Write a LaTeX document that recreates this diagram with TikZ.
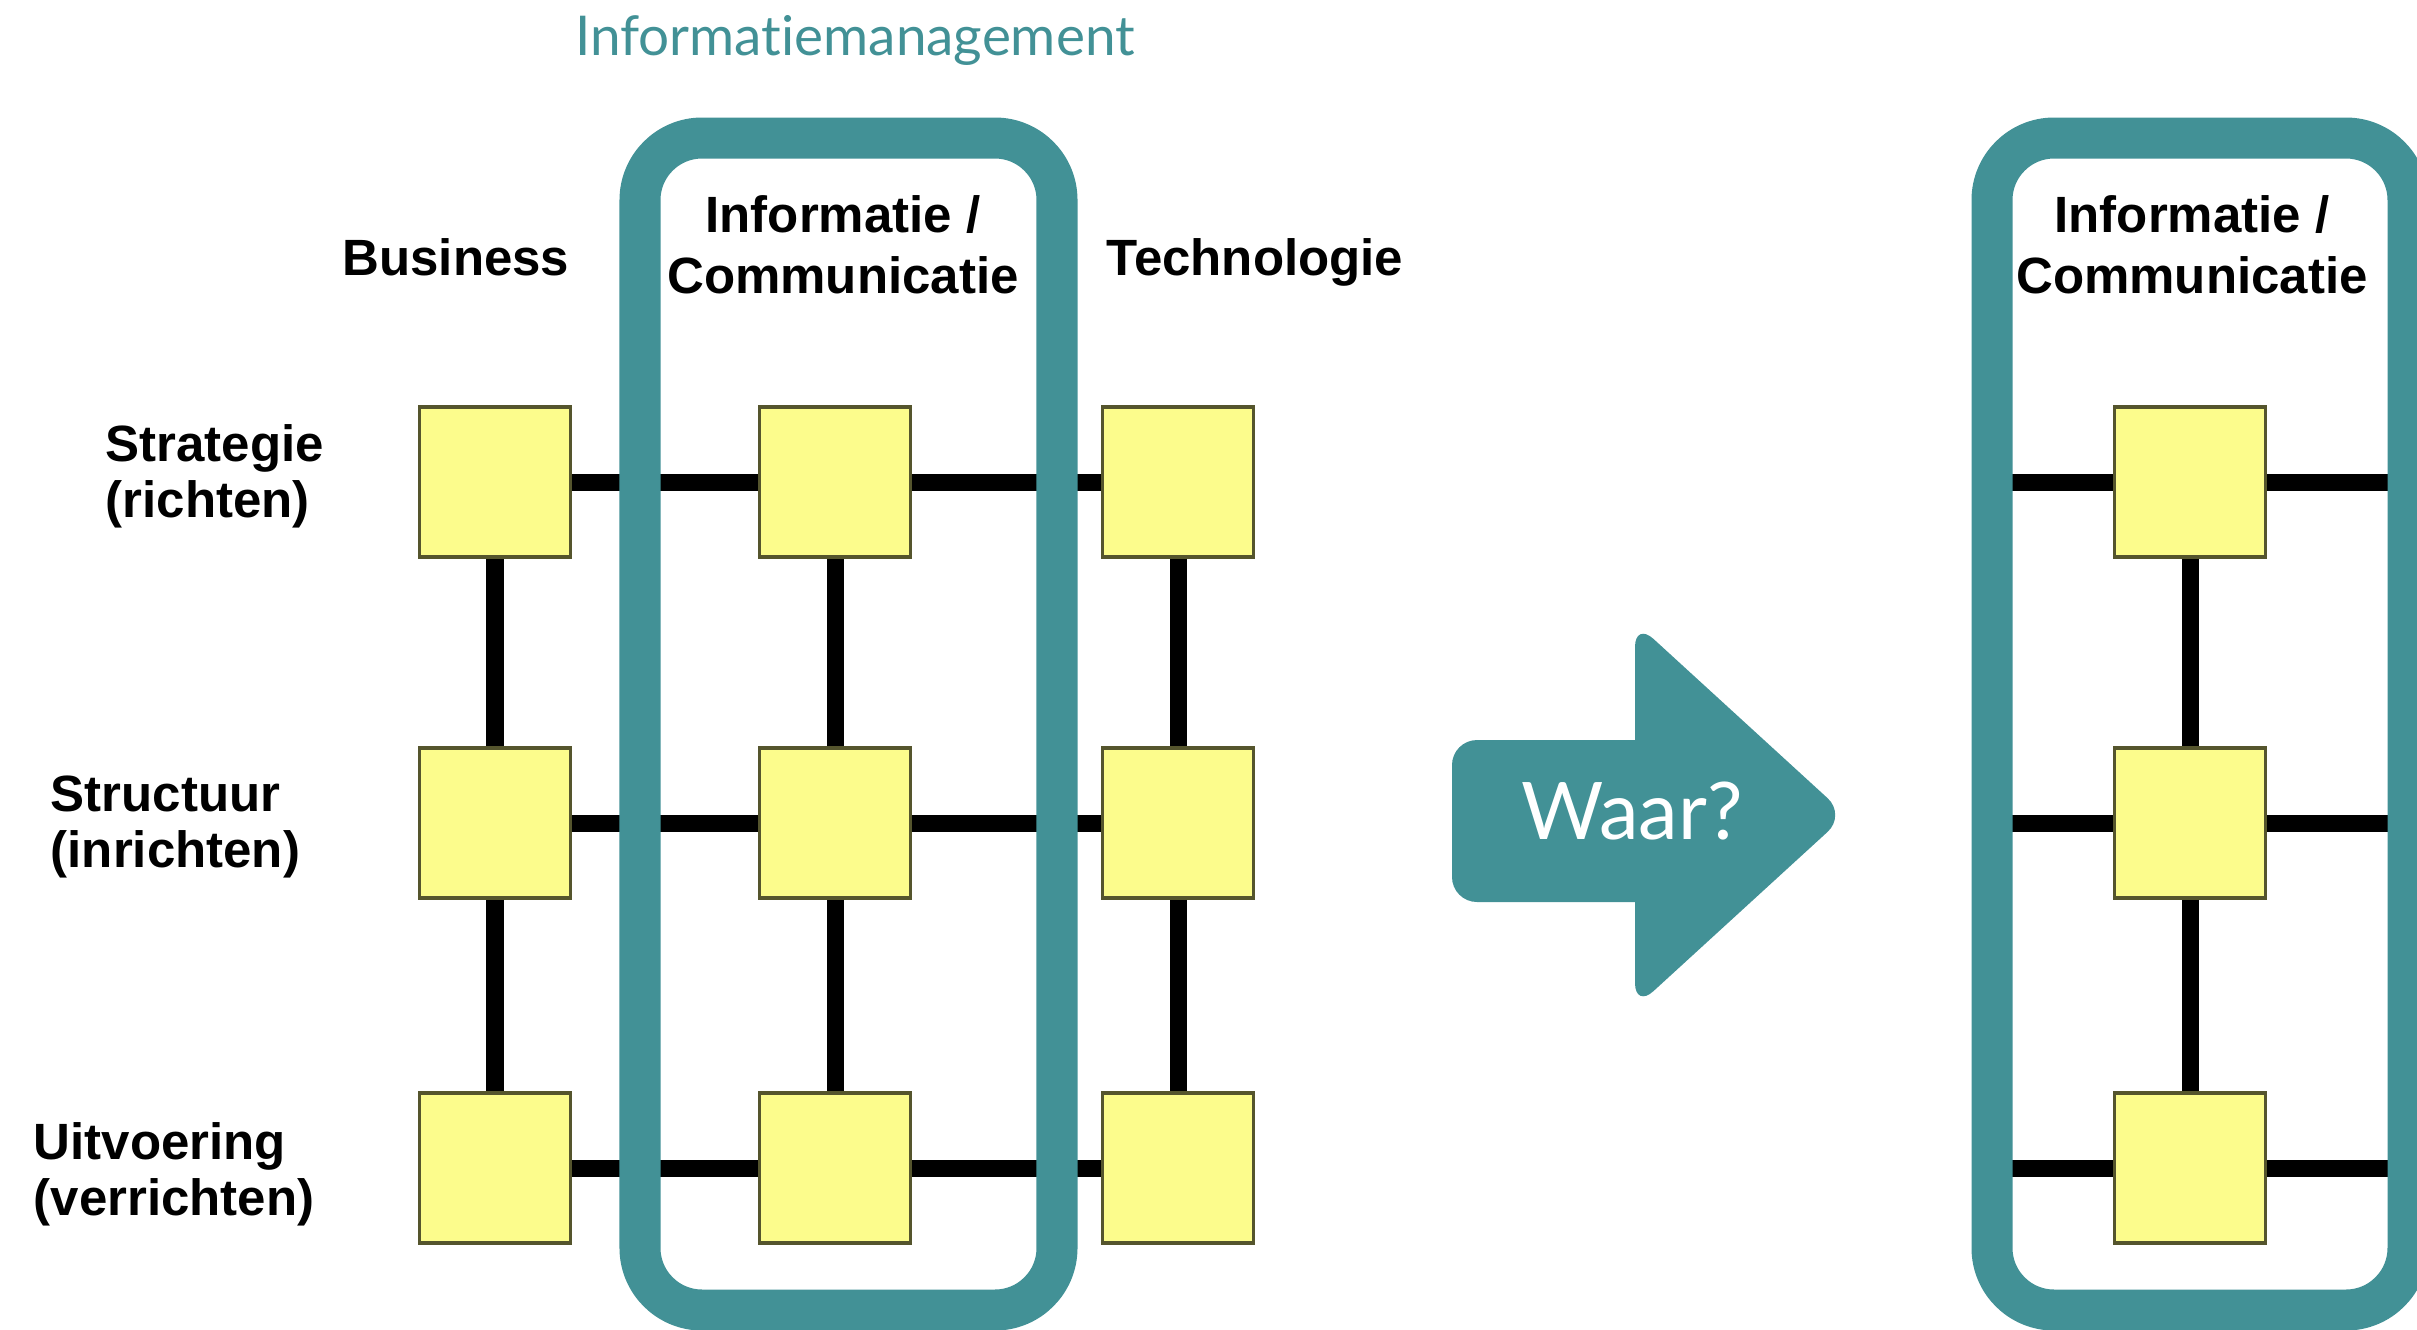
\documentclass[tikz,border=0pt]{standalone}
\usepackage{fontspec}
\setmainfont{Liberation Sans}
\newfontfamily\avenir{Lato}[Ligatures=NoCommon]
\definecolor{imteal}{RGB}{66,145,150}
\definecolor{cellfill}{RGB}{252,252,140}
\definecolor{celldraw}{RGB}{85,85,45}
\begin{document}
\begin{tikzpicture}[x=0.01cm,y=-0.01cm,
  cell/.style={draw=celldraw,fill=cellfill,line width=0.035cm,minimum width=1.51cm,minimum height=1.5cm,inner sep=0pt},
  link/.style={line width=0.17cm},
  kader/.style={draw=imteal,line width=0.41cm,rounded corners=0.62cm},
  kop/.style={font=\bfseries\fontsize{14.5}{17.3}\selectfont,align=center,anchor=base,inner sep=0pt},
  laag/.style={font=\bfseries\fontsize{14.5}{15.9}\selectfont,align=left,anchor=base west,inner sep=0pt}]
\useasboundingbox (0,0) rectangle (2417,1329);

\node[anchor=base,text=imteal,font=\avenir\fontsize{15.6}{18}\selectfont,inner sep=0pt] (titel) at (855,55) {Informatiemanagement};

% koppen
\node[kop] (business) at (456,275) {Business};
\node[kop] (infocom) at (843,293) {Informatie /\\Communicatie};
\node[kop] (techno) at (1255,275) {Technologie};

\node[laag] (strategie) at (105,517) {Strategie\\(richten)};
\node[laag] (structuur) at (50,867) {Structuur\\(inrichten)};
\node[laag] (uitvoering) at (33,1215) {Uitvoering\\(verrichten)};

% raster
\foreach \c/\x in {1/495,2/835,3/1178}
  \foreach \r/\y in {1/482,2/823,3/1168}
    \node[cell] (b\c\r) at (\x,\y) {};

\foreach \r in {1,2,3} {
  \draw[link] (b1\r) -- (b2\r);
  \draw[link] (b2\r) -- (b3\r);
}
\foreach \c in {1,2,3} {
  \draw[link] (b\c1) -- (b\c2);
  \draw[link] (b\c2) -- (b\c3);
}

\draw[kader] (640,138) rectangle (1057,1310);

% pijl
\fill[imteal] (1635,740) [rounded corners=0.25cm] -- (1635,622) -- (1846,815) -- (1635,1008) [sharp corners] -- (1635,902) [rounded corners=0.25cm] -- (1452,902) -- (1452,740) [sharp corners] -- cycle;
\node[text=white,font=\avenir\fontsize{22.6}{26}\selectfont,inner sep=0pt,anchor=base] (waar) at (1632,839) {Waar?};

% rechts
\node[kop] (infocom2) at (2192,293) {Informatie /\\Communicatie};
\foreach \r/\y in {1/482,2/823,3/1168} {
  \node[cell] (c\r) at (2190,\y) {};
  \coordinate (kl\r) at (1992,\y);
  \coordinate (kr\r) at (2408,\y);
  \draw[link] (kl\r) -- (c\r);
  \draw[link] (c\r) -- (kr\r);
}
\draw[link] (c1) -- (c2);
\draw[link] (c2) -- (c3);

\draw[kader] (1992,138) rectangle (2408,1310);

\end{tikzpicture}
\end{document}
